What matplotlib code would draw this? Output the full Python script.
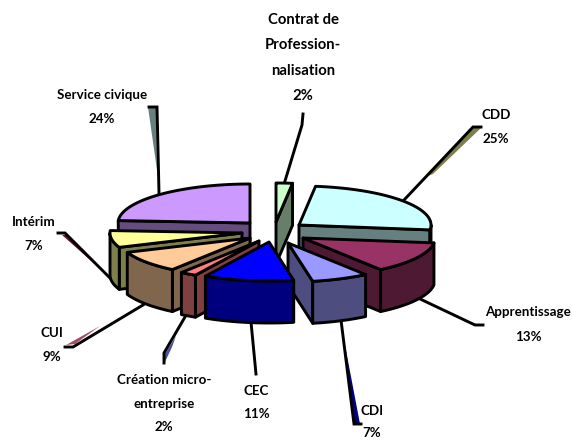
import numpy as np
import matplotlib
matplotlib.use("Agg")
import matplotlib.pyplot as plt
from matplotlib.patches import Polygon

# Répartition des contrats (%), sens horaire depuis midi
categories = ["Contrat de\nProfession-\nnalisation", "CDD", "Apprentissage", "CDI", "CEC",
              "Création micro-\nentreprise", "CUI", "Intérim", "Service civique"]
valeurs = [2, 25, 13, 7, 11, 2, 9, 7, 24]

couleurs_dessus = ["#CCFFCC", "#CCFFFF", "#993366", "#9999FF", "#0000FF",
                   "#FF8080", "#FFCC99", "#FFFF99", "#CC99FF"]
couleurs_cote = ["#667F66", "#667F7F", "#4D1933", "#4D4D7F", "#00007F",
                 "#7F4040", "#7F664D", "#7F7F4D", "#664D7F"]

# Mise en page en pixels de l'image
RX, RY, H = 132, 39, 42
sommets = [(276, 222), (299, 225), (303, 238), (288, 243), (269, 242),
           (259, 241), (250, 238), (242, 233), (250, 223)]
ordre = [8, 0, 1, 7, 2, 6, 5, 3, 4]

pos_texte = [(303, 20, 25.3), (496, 115, 24), (528, 312, 25), (372, 411, 22), (256, 391, 23),
             (164, 380, 23.5), (52, 333, 24), (34, 222, 24), (102, 95, 24)]
taille_texte = [10.7, 9.6, 9.6, 9.6, 9.6, 9.6, 9.6, 9.6, 9.6]

# lignes de rappel : trait noir puis ombre colorée
rappels = [
    [(285, 181), (302, 125), (303, 114)],
    [(404, 200), (473, 127), (481, 127)],
    [(418, 298), (475, 325), (483, 325)],
    [(341, 320), (354, 424), (361, 424)],
    [(251, 322), (256, 374)],
    [(185, 317), (164, 353), (164, 363)],
    [(143, 305), (73, 347), (65, 347)],
    [(120, 288), (65, 233), (58, 233)],
    [(159, 193), (157, 107), (149, 107)],
]
ombres = [
    None,
    [(481, 128), (473, 128), (428, 176), (433, 174)],
    [(483, 326), (475, 326), (462, 320), (470, 322)],
    [(345, 345), (354, 424), (360, 424)],
    None,
    [(165, 362), (165, 354), (176, 336), (172, 347)],
    [(66, 345), (100, 326), (75, 344)],
    [(62, 235), (66, 235), (98, 267)],
    [(148, 107), (156, 107), (157, 170)],
]
couleurs_ombre = ["#000000", "#7F7F4D", "#7F664D", "#00007F", "#000000",
                  "#4D4D9F", "#A05060", "#701030", "#667F7F"]

fig = plt.figure(figsize=(5.72, 4.4), dpi=100)
ax = fig.add_axes([0, 0, 1, 1])
ax.set_xlim(0, 572)
ax.set_ylim(440, 0)
ax.axis("off")

bornes = np.cumsum([0] + valeurs) * 360.0 / sum(valeurs)


def rim(cx, cy, a):
    r = np.radians(a)
    return np.column_stack([cx + RX * np.sin(r), cy - RY * np.cos(r)])


def face(pts, couleur, z):
    ax.add_patch(Polygon(pts, closed=True, facecolor=couleur, edgecolor="black",
                         linewidth=2.1, joinstyle="round", zorder=z))


# Rappels dessous, parts par-dessus
for pts, omb, c in zip(rappels, ombres, couleurs_ombre):
    if omb:
        ax.add_patch(Polygon(omb, closed=True, facecolor=c, edgecolor="none", zorder=1))
    xs, ys = zip(*pts)
    ax.plot(xs, ys, color="black", lw=2.1, solid_joinstyle="miter", zorder=2)

for rang, i in enumerate(ordre):
    a0, a1 = bornes[i], bornes[i + 1]
    cx, cy = sommets[i]
    z = 3 + rang * 0.1
    dessus = rim(cx, cy, np.linspace(a0, a1, 60))
    apex = np.array([[cx, cy]])
    bas = np.array([0, H])

    # faces de coupe visibles
    if np.sin(np.radians(a0)) < -1e-6:
        p = dessus[:1]
        face(np.vstack([apex, p, p + bas, apex + bas]), couleurs_cote[i], z)
    if np.sin(np.radians(a1)) > 1e-6:
        p = dessus[-1:]
        face(np.vstack([apex, p, p + bas, apex + bas]), couleurs_cote[i], z)

    # paroi extérieure
    d0, d1 = max(a0, 90), min(a1, 270)
    if d1 > d0:
        arc = rim(cx, cy, np.linspace(d0, d1, 60))
        face(np.vstack([arc, arc[::-1] + bas]), couleurs_cote[i], z)

    face(np.vstack([apex, dessus]), couleurs_dessus[i], z)

# Étiquettes
for nom, val, (x, y, pas), taille in zip(categories, valeurs, pos_texte, taille_texte):
    lignes = nom.split("\n") + [f"{val}%"]
    for k, t in enumerate(lignes):
        ax.text(x, y + k * pas, t, family="Lato", fontweight="bold", fontsize=taille,
                color="black", ha="center", va="center", zorder=10)

fig.savefig("out.png", dpi=100)
